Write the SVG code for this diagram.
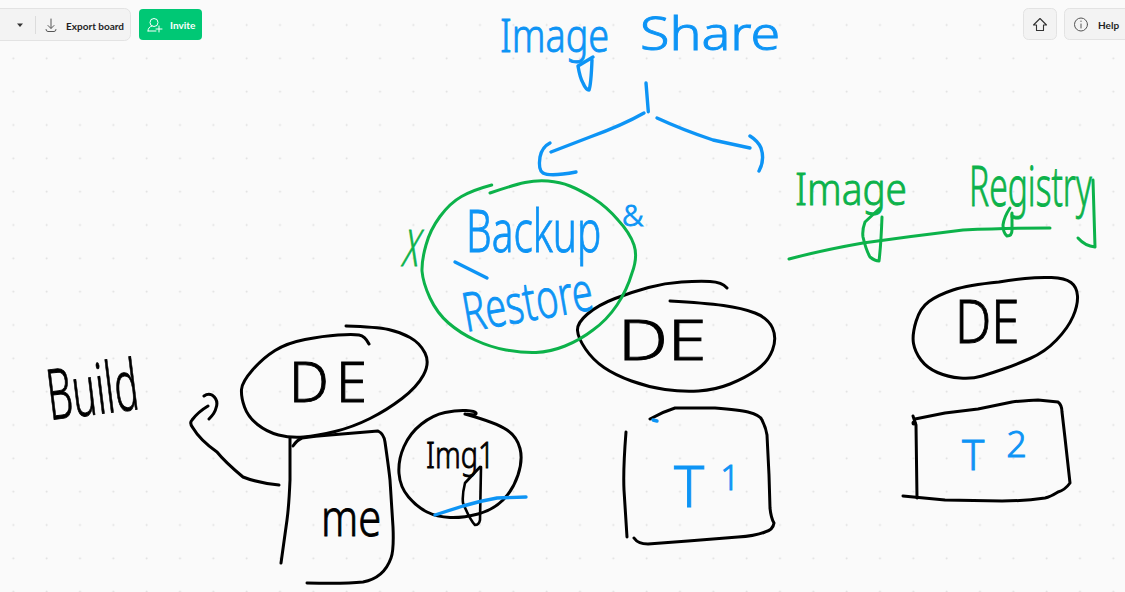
<svg xmlns="http://www.w3.org/2000/svg" width="1125" height="592" viewBox="0 0 1125 592">
<style>
.ink{fill:none;stroke-linecap:round;stroke-linejoin:round;stroke-width:3}
.k{stroke:#000}.b{stroke:#0d94f5;stroke-width:3.4}.g{stroke:#0cb24a}
.hand{font-family:"Noto Sans","Liberation Sans",sans-serif;font-weight:300;stroke-width:.9}
.tk{fill:#000;stroke:#000}.tb{fill:#0d94f5;stroke:#0d94f5}.tg{fill:#0cb24a;stroke:#0cb24a}
.ui{font-family:Lato,"Liberation Sans",sans-serif;font-weight:700;font-size:10px;fill:#1f1f1f}
.btn{fill:#f3f3f3;stroke:#e3e3e3;stroke-width:1}
.ic{fill:none;stroke:#555;stroke-width:1;stroke-linecap:round;stroke-linejoin:round}
</style>
<defs>
<pattern id="dots" patternUnits="userSpaceOnUse" width="33.333" height="33.333"><circle cx="13.33" cy="25" r="1" fill="#dfdfdf"/></pattern>
</defs>
<rect width="1125" height="592" fill="#fafafa"/>
<rect width="1125" height="592" fill="url(#dots)"/>

<g id="toolbar">
<rect class="btn" x="-10" y="8.500" width="140.500" height="32" rx="6"/>
<path d="M17 23.500h6l-3 3.500z" fill="#333"/>
<path d="M35.500 16V34" stroke="#dcdcdc" stroke-width="1"/>
<path class="ic" d="M51 19V28M48 25.500l3 3 3-3M46 29.500q0 2 2 2h6q2 0 2-2"/>
<text class="ui" x="66" y="29.500">Export board</text>
</g>
<g id="invite">
<rect x="139" y="9" width="63" height="31" rx="4" fill="#00c875"/>
<circle cx="154" cy="22.500" r="4" fill="none" stroke="#fff" stroke-width="1"/>
<path d="M148 31q0-4 4-5M148 31h8M159 26v6M156 29h6" fill="none" stroke="#fff" stroke-width="1" stroke-linecap="round"/>
<text class="ui" x="170" y="28.500" style="fill:#fff">Invite</text>
</g>
<g id="home">
<rect class="btn" x="1023.500" y="8.500" width="33" height="31" rx="5"/>
<path d="M1040 18.500l-6.500 6.500h3v5.500h7v-5.500h3z" fill="none" stroke="#333" stroke-width="1.100" stroke-linejoin="round"/>
</g>
<g id="help">
<rect class="btn" x="1064.500" y="8.500" width="80" height="31" rx="5"/>
<circle cx="1081" cy="24.500" r="6.500" class="ic"/>
<path d="M1081 24V28M1081 21v.5" class="ic"/>
<text class="ui" x="1098" y="28.500">Help</text>
</g>

<g id="connectors">
<path class="ink b" d="M646 83L648.300 111.700"/>
<path class="ink b" d="M644 113Q623 125 590 137L551 152"/>
<path class="ink b" d="M550 143Q542 147 540 157Q538 170 543 173Q550 177 576 172"/>
<path class="ink b" d="M657 118Q683 130 713 140L750 148"/>
<path class="ink b" d="M750 136Q758 141 761 148Q765 160 759 171"/>
<path class="ink k" d="M279 485Q258 483 243 477Q225 462 217 452Q200 440 193 428Q189 423 192 420Q198 412 208 406M204 396Q208 393 212 395Q219 400 216 408Q215 413 209 419"/>
<path class="ink g" d="M789 259Q823 250 863 243Q913 236 963 230Q1013 228 1050 228"/>
</g>

<g id="image-share">
<text class="hand tb" transform="translate(500 52) scale(.82 1)" font-size="46">Image</text>
<text class="hand tb" transform="translate(640 50) scale(1.17 1)" font-size="46">Share</text>
<path class="ink b" d="M593 57L578 66Q580 78 583 83Q586 90 589 90Q591 85 592 60"/>
</g>

<g id="build">
<text class="hand tk" transform="translate(50 420) rotate(-7) scale(.57 1)" font-size="70">Build</text>
</g>

<g id="de-1">
<path class="ink k" d="M369 344Q365 336 359 335Q353 334 338 335Q323 336 305 339.500Q287 343 275 350.500Q263 358 252.500 370Q242 382 241.500 389.500Q241 397 244.500 407Q248 417 257.500 424.500Q267 432 278.500 435Q290 438 303.500 437Q317 436 335 431.500Q353 427 370 418.500Q387 410 402 398.500Q417 387 423.500 375Q430 363 425 353Q420 343 410 337.500Q400 332 388.500 329.500Q377 327 346 326"/>
<text class="hand tk" x="289" y="402" font-size="56" textLength="78">DE</text>
</g>

<g id="me">
<path class="ink k" d="M290 438L290 480Q289 505 287 520L281 563"/>
<path class="ink k" d="M293 446Q297 440 302 438Q315 436 330 435L378 431Q384 434 385 442Q389 470 390 480L393 527Q394 550 391 558Q384 578 363 582Q345 584 307 583"/>
<text class="hand tk" transform="translate(321 536) scale(.8 1)" font-size="52">me</text>
</g>

<g id="img1">
<path class="ink k" d="M465 414Q477 416 476 413Q475 411 466 410.500Q457 410 445 412.500Q433 415 421.500 424Q410 433 404 446.500Q398 460 399 473.500Q400 487 408.500 497Q417 507 427 512Q437 517 450 517.500Q463 518 478 514Q493 510 503 500Q513 490 518 475Q523 460 520 448.500Q517 437 507 430Q497 423 465 414"/>
<text class="hand tk" transform="translate(426 468) scale(.8 1)" font-size="36">Img1</text>
<path class="ink k" style="stroke-width:2.600" d="M480 467L465 483Q462 495 463 503Q470 520 475 525Q479 525 480 520L481 467"/>
<path class="ink b" d="M435 515L463 506Q480 501 497 498L526 497"/>
</g>

<g id="de-2">
<path class="ink k" d="M727 288Q722 282 710 281.500Q698 281 681.500 282Q665 283 648.500 287.500Q632 292 615 298.500Q598 305 587.500 314Q577 323 577.500 330.500Q578 338 585.500 349Q593 360 604 367.500Q615 375 631.500 381Q648 387 665 389.500Q682 392 698.500 391Q715 390 730 384Q745 378 756.500 370Q768 362 772.500 350Q777 338 772.500 328Q768 318 755 313Q742 308 723.500 305.500Q705 303 670 301"/>
<text class="hand tk" transform="translate(618 360) scale(1.25 1)" font-size="56">DE</text>
</g>

<g id="t1">
<path class="ink k" d="M650 419Q662 412 675 408L715 408Q740 410 748 412Q760 415 762 420Q766 428 767 435L769 475L770 508Q771 518 774 523Q773 530 765 532Q755 536 738 537L688 541L648 544Q638 544 634 538"/>
<path class="ink k" d="M626 432Q623 470 624 490L627 537"/>
<path class="ink b" d="M653 420L657 421"/>
<text class="hand tb" x="674" y="507" font-size="57">T<tspan font-size="34" dx="16" dy="-17">1</tspan></text>
</g>

<g id="de-3">
<path class="ink k" d="M999 282Q1012 280 1025 278.500Q1038 277 1051.500 277.500Q1065 278 1071 282.500Q1077 287 1077.500 296Q1078 305 1073 316.500Q1068 328 1056.500 340Q1045 352 1030 358.500Q1015 365 1003.500 369Q992 373 982 376Q972 379 960 378Q948 377 937.500 372.500Q927 368 921 360Q915 352 913.500 343.500Q912 335 916 321.500Q920 308 929 301.500Q938 295 953 290Q968 285 999 282"/>
<text class="hand tk" transform="translate(955 343) scale(.85 1)" font-size="60">DE</text>
</g>

<g id="t2">
<path class="ink k" d="M915 419L945 413L978 409L1012 402Q1030 400 1038 400L1058 402Q1062 405 1062 412L1065 438L1070 483Q1065 490 1058 492Q1050 497 1045 498Q1025 501 1002 501L945 500L903 496"/>
<path class="ink k" d="M913 416L916 425L917 498"/>
<circle cx="914" cy="423" r="2.500" fill="#000"/>
<text class="hand tb" x="962" y="470" font-size="42">T<tspan font-size="36" dx="22" dy="-13">2</tspan></text>
</g>

<g id="backup-restore">
<path class="ink g" d="M491.700 185Q473 190 461.500 196.500Q450 203 440 216.500Q430 230 426 245Q421.700 260 422 271Q423 283 430 298Q437 313 448.500 323Q460 333 475 340Q490 347 506 350Q523 353 536 352.500Q550 352 565 346Q580 340 593 330Q607 320 617 305Q627 290 632 273Q638 257 634 245Q630 233 618 220Q607 207 593 198Q580 190 570 186Q560 182 548 181Q537 180 525 182.500Q513 185 490 193"/>
<text class="hand tg" transform="translate(401 266) skewX(-12) scale(.6 1.05)" font-size="48">X</text>
<text class="hand tb" transform="translate(466 252) scale(.7 1)" font-size="58">Backup</text>
<text class="hand tb" x="622" y="226" font-size="30">&amp;</text>
<path class="ink b" d="M455 262L487 278"/>
<text class="hand tb" transform="translate(466 332) rotate(-10) scale(.7 1)" font-size="54">Restore</text>
</g>

<g id="image-registry">
<text class="hand tg" transform="translate(795 205) scale(.88 1)" font-size="44">Image</text>
<path class="ink g" d="M880 208L865 222Q862 230 863 237Q866 250 870 257Q875 261 879 261Q881 245 882 217"/>
<text class="hand tg" transform="translate(969 206) scale(.6 1)" font-size="56">Registry</text>
<path class="ink g" d="M1010 208Q1004 217 1003 225Q1003 233 1007 236Q1012 236 1012 230L1012 213"/>
<path class="ink g" d="M1078 238Q1085 246 1095 247L1093 180"/>
</g>
</svg>
